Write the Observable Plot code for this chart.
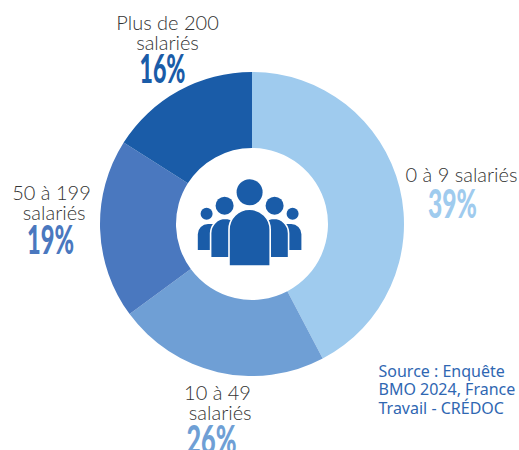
<!DOCTYPE html>
<html><head><meta charset="utf-8">
<script src="https://cdn.jsdelivr.net/npm/d3@7"></script>
<script src="https://cdn.jsdelivr.net/npm/@observablehq/plot@0.6"></script>
<style>html,body{margin:0;background:#fff}svg{display:block}</style>
</head><body><div id="c"></div>
<script>
const categories = ["0 à 9 salariés", "10 à 49\n salariés", "50 à 199\n salariés", "Plus de 200\nsalariés"];
const percentLabels = ["39%", "26%", "19%", "16%"];
const drawnShares = [42.3, 22.6, 19.1, 16];
const sliceColors = ["#9fcbee", "#6f9fd5", "#4a78bf", "#1a5ca8"];
const sourceText = "Source : Enquête\nBMO 2024, France\nTravail - CRÉDOC";

const W = 519, H = 450, CX = 252, CY = 224, R = 152, r0 = 76;
const starts = d3.cumsum([0, ...drawnShares]);
const rows = categories.map((c, i) => ({c, x1: starts[i], x2: starts[i + 1], color: sliceColors[i]}));

const arc = d3.arc().innerRadius(r0).outerRadius(R);
const donut = Plot.barX(rows, {
  x1: "x1", x2: "x2", fill: "color",
  render(index, scales, values) {
    const g = d3.create("svg:g").attr("transform", `translate(${CX},${CY})`);
    for (const i of index) g.append("path")
      .attr("d", arc({startAngle: values.x1[i], endAngle: values.x2[i]}))
      .attr("fill", values.fill ? values.fill[i] : rows[i].color);
    return g.node();
  }
});

const ICON = "#1a5ca8";
const icon = () => {
  const g = d3.create("svg:g").attr("fill", ICON).attr("stroke", "#fff").attr("stroke-width", 1.6);
  const body = (x0, x1, top, bot, rad) =>
    `M${x0},${bot}V${top + rad}A${rad},${rad} 0 0 1 ${x0 + rad},${top}H${x1 - rad}A${rad},${rad} 0 0 1 ${x1},${top + rad}V${bot}Z`;
  const mid = 249.6;
  for (const s of [-1, 1]) {
    const a = mid + s * 52.6, b = mid + s * 25;
    g.append("path").attr("d", s < 0 ? body(a, b, 223.3, 250.7, 11) : body(b, a, 223.3, 250.7, 11));
    g.append("circle").attr("cx", mid + s * 43).attr("cy", 213.7).attr("r", 6).attr("stroke", "none");
    const c = mid + s * 39, d = mid + s * 10;
    g.append("path").attr("d", s < 0 ? body(c, d, 218.3, 257.7, 15) : body(d, c, 218.3, 257.7, 15));
    g.append("circle").attr("cx", mid + s * 25).attr("cy", 205.7).attr("r", 9).attr("stroke", "none");
  }
  g.append("path").attr("d", body(mid - 20.6, mid + 20.6, 209.3, 266, 20.5));
  g.append("circle").attr("cx", mid).attr("cy", 192.3).attr("r", 13).attr("stroke", "none");
  return g.node();
};

const labelFont = "Lato, 'Open Sans', sans-serif";
const labelAt = [[461, 175], [217, 403], [51, 203], [167, 33]];
const pctAt = [[452, 205], [211, 441], [50, 241], [162, 70]];
const pctWidth = [49, 50, 47, 46];

const textAt = (txt, [x, y], o) => Plot.text([txt], {
  text: d => d, frameAnchor: "top-left", dx: x, dy: y, textAnchor: "middle", lineAnchor: "middle", ...o
});
const pctMark = (txt, at, color, w) => Plot.text([txt], {
  text: d => d, frameAnchor: "top-left", dx: at[0], dy: at[1], textAnchor: "middle", lineAnchor: "middle",
  fontFamily: "Lato, 'Liberation Sans', sans-serif", fontWeight: 900, fontSize: 39, fill: color,
  render(index, scales, values, dims, ctx, next) {
    const g = next(index, scales, values, dims, ctx);
    g.querySelectorAll("text").forEach(t => { t.setAttribute("textLength", w); t.setAttribute("lengthAdjust", "spacingAndGlyphs"); });
    return g;
  }
});

const plot = Plot.plot({
  width: W, height: H, margin: 0,
  x: {axis: null, domain: [0, 100], range: [0, 2 * Math.PI]},
  y: {axis: null},
  marks: [
    donut,
    icon,
    ...categories.map((c, i) => textAt(c, labelAt[i], {fontFamily: labelFont, fontWeight: 300, fontSize: 20, lineHeight: 1.03, fill: "#333"})),
    ...percentLabels.map((p, i) => pctMark(p, pctAt[i], sliceColors[i], pctWidth[i])),
    Plot.text([sourceText], {text: d => d, frameAnchor: "top-left", dx: 378, dy: 389, textAnchor: "start", lineAnchor: "middle",
      fontFamily: "'Noto Sans', sans-serif", fontSize: 16, lineHeight: 1.15, fill: "#2f67b2"})
  ]
});
document.getElementById("c").append(plot);
</script></body></html>
